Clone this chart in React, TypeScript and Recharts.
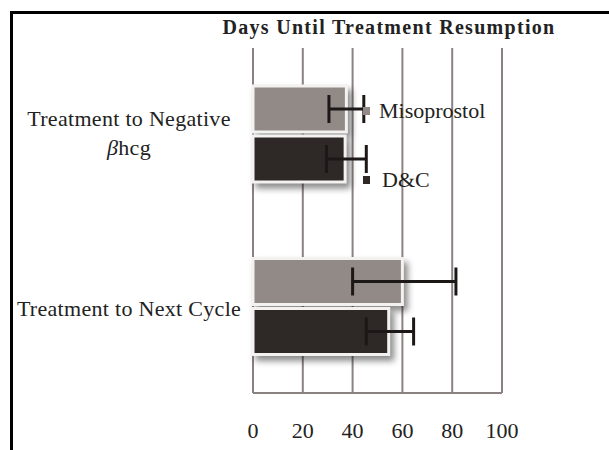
import React from 'react';
import {
  BarChart, Bar, XAxis, YAxis, CartesianGrid, ErrorBar
} from 'recharts';

const categories = ['Treatment to Negative\nβhcg', 'Treatment to Next Cycle'];
const misoprostol = [37.5, 60];
const misoprostolErr = [[7, 7], [20, 21.5]];
const dc = [37, 54.5];
const dcErr = [[7.5, 8.5], [9, 10]];
const xTicks = [0, 20, 40, 60, 80, 100];

const seriesNames = ['Misoprostol', 'D&C'];
const colors = ['#918a87', '#2e2826'];

const data = categories.map((name, i) => ({
  name,
  miso: misoprostol[i],
  misoErr: misoprostolErr[i],
  dc: dc[i],
  dcErr: dcErr[i],
}));

const FONT = '"Liberation Serif", "Times New Roman", serif';

const ShadowBar = (props: any) => {
  const { x, y, width, height, fill } = props;
  if (!width || width <= 0) return null;
  return (
    <rect
      x={x}
      y={y}
      width={width}
      height={height}
      fill={fill}
      stroke="#f4f2f1"
      strokeWidth={3}
      style={{ filter: 'drop-shadow(4px 5px 3px rgba(0,0,0,0.45))' }}
    />
  );
};

const CategoryTick = (props: any) => {
  const { y, payload } = props;
  const lines: string[] = String(payload.value).split('\n');
  const first = lines.length > 1 ? -8 : 9;
  return (
    <text x={129} textAnchor="middle" fontFamily={FONT} fontSize={22} fill="#222" letterSpacing={0.3}>
      {lines.map((line, i) => {
        const ty = y + first + i * 29;
        if (line.startsWith('β')) {
          return (
            <tspan key={i} x={129} y={ty}>
              <tspan fontStyle="italic">β</tspan>{line.slice(1)}
            </tspan>
          );
        }
        return <tspan key={i} x={129} y={ty}>{line}</tspan>;
      })}
    </text>
  );
};

// legend sits beside the first pair of bars, one row per series
const LegendBox = () => (
  <div style={{ position: 'absolute', left: 363, top: 98, fontFamily: FONT, fontSize: 22, color: '#222' }}>
    {seriesNames.map((n, i) => (
      <div key={n} style={{ position: 'absolute', left: 0, top: i * 69, display: 'flex', alignItems: 'center', whiteSpace: 'nowrap', height: 26 }}>
        <span style={{ display: 'inline-block', width: 7, height: 8, background: colors[i], marginRight: i === 0 ? 9 : 12 }} />
        <span>{n}</span>
      </div>
    ))}
  </div>
);

export default function App() {
  return (
    <div style={{ position: 'absolute', left: 0, top: 0, width: 609, height: 450, background: '#fff', overflow: 'hidden' }}>
      <div style={{ position: 'absolute', left: 10, top: 11, width: 620, height: 460, borderTop: '3px solid #000', borderLeft: '3px solid #000' }} />
      <div style={{ position: 'absolute', left: 215, top: 16, width: 348, textAlign: 'center', fontFamily: FONT, fontWeight: 'bold', fontSize: 20, letterSpacing: 1.3, color: '#222', whiteSpace: 'nowrap' }}>
        Days Until Treatment Resumption
      </div>
      <BarChart
        width={609}
        height={450}
        data={data}
        layout="vertical"
        margin={{ top: 48, right: 107, left: 0, bottom: 0 }}
        barSize={46}
        barGap={4}
      >
        <CartesianGrid horizontal={false} stroke="#8a8280" strokeWidth={2} />
        <XAxis
          type="number"
          domain={[0, 100]}
          ticks={xTicks}
          axisLine={{ stroke: '#8a8280', strokeWidth: 2 }}
          tickLine={false}
          tickSize={0}
          tickMargin={29}
          height={57}
          tick={{ fontFamily: FONT, fontSize: 22, fill: '#222' }}
        />
        <YAxis
          type="category"
          dataKey="name"
          width={253}
          axisLine={false}
          tickLine={false}
          tick={<CategoryTick />}
        />
        <Bar dataKey="miso" name="Misoprostol" fill={colors[0]} shape={<ShadowBar />} isAnimationActive={false}>
          <ErrorBar dataKey="misoErr" direction="x" width={14} stroke="#1c1818" strokeWidth={3} />
        </Bar>
        <Bar dataKey="dc" name="D&C" fill={colors[1]} shape={<ShadowBar />} isAnimationActive={false}>
          <ErrorBar dataKey="dcErr" direction="x" width={14} stroke="#1c1818" strokeWidth={3} />
        </Bar>
      </BarChart>
      <LegendBox />
    </div>
  );
}
